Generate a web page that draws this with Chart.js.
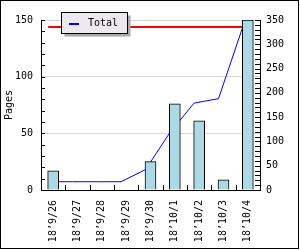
<!DOCTYPE html>
<html>
<head>
<meta charset="utf-8">
<script src="https://cdn.jsdelivr.net/npm/chart.js@4/dist/chart.umd.min.js"></script>
<style>
  html, body { margin: 0; padding: 0; background: #fff; }
  #wrap { width: 300px; height: 250px; }
</style>
</head>
<body>
<div id="wrap"><canvas id="c" width="300" height="250"></canvas></div>
<script>
const categories = ["18’9/26", "18’9/27", "18’9/28", "18’9/29", "18’9/30", "18’10/1", "18’10/2", "18’10/3", "18’10/4"];
const pages = [17, 0, 0, 0, 25, 76, 61, 9, 150];
const total = [17, 17, 17, 17, 42, 118, 179, 188, 336];
const limit = 144;
const pagesMax = 150, totalMax = 350, labelStep = 50, minorStep = 10;

const FONT = { family: "DejaVu Sans Mono", size: 10 };
const LINE_SHIFT = -5; // line points sit at the bar's left edge in the original

// shift the line left, like the original renderer does
const shiftLine = {
  id: "shiftLine",
  beforeDatasetDraw(chart, args) {
    if (args.meta.type === "line") { chart.ctx.save(); chart.ctx.translate(LINE_SHIFT, 0); }
  },
  afterDatasetDraw(chart, args) {
    if (args.meta.type === "line") chart.ctx.restore();
  }
};

// red limit line, behind the bars
const limitLine = {
  id: "limitLine",
  beforeDatasetsDraw(chart) {
    const { ctx, scales } = chart;
    const y = Math.round(scales.y.getPixelForValue(limit));
    const x0 = scales.x.getPixelForValue(0) + LINE_SHIFT;
    const x1 = scales.x.getPixelForValue(categories.length - 1) + LINE_SHIFT;
    ctx.save();
    ctx.strokeStyle = "#ff0000";
    ctx.lineWidth = 2;
    ctx.beginPath();
    ctx.moveTo(x0, y);
    ctx.lineTo(x1, y);
    ctx.stroke();
    ctx.restore();
  }
};

// inward ticks, legend box and the outer frame
const decor = {
  id: "decor",
  beforeDraw(chart) {
    const ctx = chart.ctx;
    ctx.save();
    ctx.fillStyle = "#fff";
    ctx.fillRect(0, 0, chart.width, chart.height);
    ctx.restore();
  },
  afterDraw(chart) {
    const { ctx, chartArea: a, scales } = chart;
    ctx.save();
    ctx.strokeStyle = "#000";
    ctx.lineWidth = 1;
    ctx.beginPath();
    for (let v = minorStep; v <= pagesMax; v += minorStep) {
      const y = Math.round(scales.y.getPixelForValue(v)) + 0.5;
      ctx.moveTo(a.left, y); ctx.lineTo(a.left + 4, y);
    }
    for (let v = minorStep; v <= totalMax; v += minorStep) {
      const y = Math.round(scales.y2.getPixelForValue(v)) + 0.5;
      ctx.moveTo(a.right, y); ctx.lineTo(a.right - 5, y);
    }
    for (let i = 0; i < categories.length - 1; i++) {
      const x = Math.round((scales.x.getPixelForValue(i) + scales.x.getPixelForValue(i + 1)) / 2) + 0.5;
      ctx.moveTo(x, a.bottom); ctx.lineTo(x, a.bottom - 5);
    }
    ctx.stroke();

    // legend
    const lx = 61.5, ly = 12.5, lw = 66, lh = 21;
    ctx.fillStyle = "#a8a8a8";
    ctx.fillRect(lx + 3, ly + 3, lw, lh);
    ctx.fillStyle = "#ebe8f0";
    ctx.fillRect(lx, ly, lw, lh);
    ctx.strokeRect(lx, ly, lw, lh);
    ctx.strokeStyle = "#0000ff";
    ctx.lineWidth = 2;
    ctx.beginPath();
    ctx.moveTo(69, 24); ctx.lineTo(79, 24);
    ctx.stroke();
    ctx.fillStyle = "#000";
    ctx.font = FONT.size + "px '" + FONT.family + "'";
    ctx.textBaseline = "middle";
    ctx.fillText("Total", 88, 23.5);

    // frame
    ctx.strokeStyle = "#000";
    ctx.lineWidth = 1;
    ctx.strokeRect(0.5, 0.5, 298, 248);
    ctx.restore();
  }
};

new Chart(document.getElementById("c"), {
  data: {
    labels: categories,
    datasets: [
      {
        type: "bar",
        label: "Pages",
        data: pages,
        yAxisID: "y",
        backgroundColor: "#add8e6",
        borderColor: "#000",
        borderWidth: 1,
        barThickness: 11,
        order: 1
      },
      {
        type: "line",
        label: "Total",
        data: total,
        yAxisID: "y2",
        borderColor: "#0000ff",
        borderWidth: 1,
        pointRadius: 0,
        tension: 0,
        order: 2
      }
    ]
  },
  options: {
    responsive: false,
    animation: false,
    events: [],
    layout: { padding: { top: 20, left: 0, right: 0, bottom: 0 } },
    plugins: { legend: { display: false }, tooltip: { enabled: false } },
    scales: {
      x: {
        offset: true,
        grid: { drawOnChartArea: false, drawTicks: false },
        border: { color: "#000" },
        ticks: { color: "#000", font: FONT, minRotation: 90, maxRotation: 90, padding: 10, autoSkip: false },
        afterFit: s => { s.height = 60; }
      },
      y: {
        position: "left",
        min: 0,
        max: pagesMax,
        grid: { color: c => (c.tick && c.tick.value === 0 ? "rgba(0,0,0,0)" : "#d9d9d9"), drawTicks: false },
        border: { color: "#000" },
        ticks: { stepSize: labelStep, color: "#000", font: FONT, padding: 8 },
        title: { display: true, text: "Pages", color: "#000", font: FONT, padding: { top: 3, bottom: 0 } },
        afterFit: s => { s.width = 41; }
      },
      y2: {
        position: "right",
        min: 0,
        max: totalMax,
        grid: { drawOnChartArea: false, drawTicks: false },
        border: { color: "#000" },
        ticks: { stepSize: labelStep, color: "#000", font: FONT, padding: 6 },
        afterFit: s => { s.width = 40; }
      }
    }
  },
  plugins: [shiftLine, limitLine, decor]
});
</script>
</body>
</html>
